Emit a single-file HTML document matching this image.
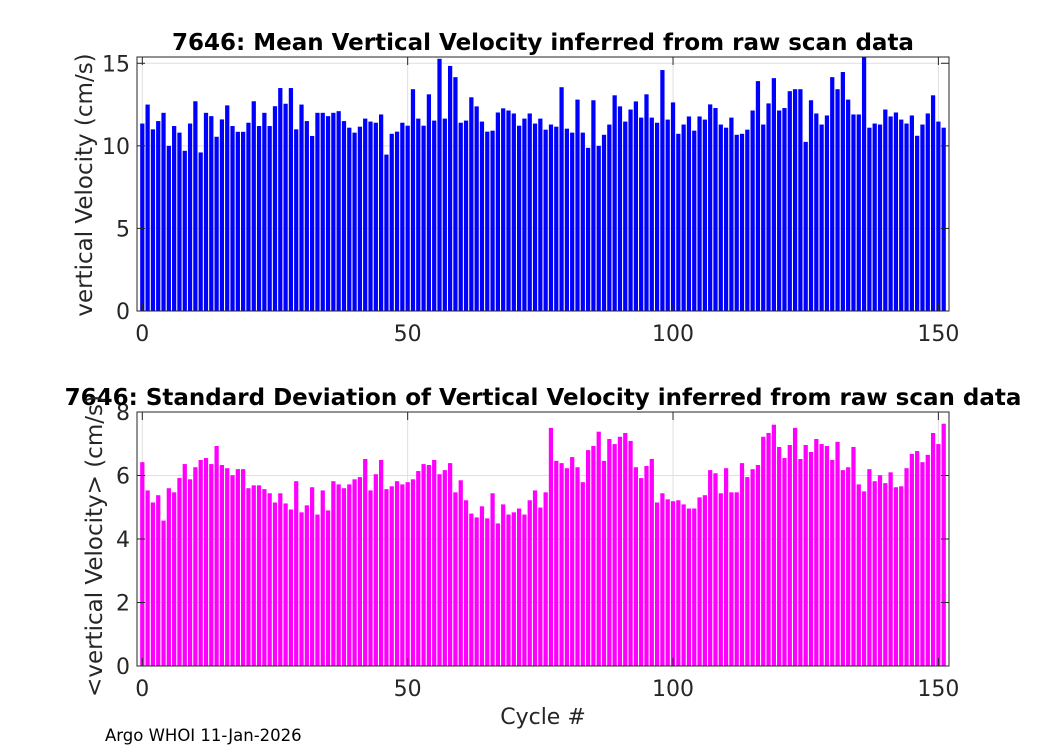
<!DOCTYPE html>
<html><head><meta charset="utf-8"><style>
body{margin:0;background:#fff;}
svg{display:block;font-family:"DejaVu Sans","Liberation Sans",sans-serif;}
</style></head><body>
<svg id="fig" width="1050" height="750" viewBox="0 0 1050 750" xmlns="http://www.w3.org/2000/svg"></svg>
<script>
const cycles = Array.from({length:152},(_,i)=>i);
const meanVel = [11.35,12.5,11.0,11.5,12.0,10.0,11.2,10.8,9.7,11.35,12.7,9.6,12.0,11.8,10.55,11.6,12.45,11.2,10.85,10.85,11.4,12.7,11.2,12.0,11.2,12.4,13.5,12.55,13.5,11.0,12.5,11.5,10.6,12.0,12.0,11.8,12.0,12.1,
11.5,11.1,10.8,11.16,11.65,11.47,11.4,11.9,9.47,10.73,10.86,11.4,11.22,13.43,11.65,11.22,13.12,11.53,15.27,11.65,14.84,14.16,11.4,11.53,12.94,12.39,11.47,10.86,10.92,12.02,12.27,12.14,11.96,11.22,11.65,11.96,11.35,11.65,10.98,
11.29,11.16,13.55,11.04,10.8,12.8,10.8,9.88,12.76,10.0,10.67,11.29,13.06,12.39,11.47,12.2,12.69,11.71,13.12,11.71,11.4,14.59,11.59,12.63,10.73,11.29,11.78,10.92,11.78,11.59,12.51,12.29,11.29,11.1,11.71,10.67,10.73,10.98,
12.14,13.92,11.29,12.57,14.1,12.14,12.29,13.31,13.43,13.43,10.24,12.76,11.96,11.29,11.84,14.16,13.43,14.47,12.8,11.9,11.9,15.6,11.1,11.35,11.29,12.2,11.78,12.02,11.59,11.35,11.84,10.61,11.29,11.96,13.06,11.47,11.1];
const stdVel = [6.42,5.53,5.15,5.38,4.58,5.6,5.47,5.92,6.36,5.88,6.26,6.49,6.55,6.36,6.93,6.33,6.23,6.01,6.2,6.2,5.6,5.69,5.69,5.57,5.44,5.15,5.44,5.12,4.93,5.82,4.84,5.06,5.63,4.77,5.53,4.9,5.82,5.72,
5.6,5.72,5.88,5.95,6.52,5.53,6.04,6.49,5.57,5.66,5.82,5.72,5.79,5.88,6.14,6.36,6.33,6.49,6.04,6.17,6.39,5.47,5.85,5.22,4.8,4.68,5.03,4.65,5.44,4.49,5.09,4.77,4.84,4.96,4.77,5.22,5.53,4.99,5.47,
7.5,6.46,6.39,6.23,6.58,6.26,5.79,6.8,6.93,7.38,6.46,7.15,6.99,7.22,7.34,7.09,6.26,5.92,6.3,6.52,5.15,5.44,5.25,5.19,5.22,5.09,4.96,4.96,5.31,5.38,6.17,6.07,5.44,6.23,5.47,5.47,6.39,5.95,
6.2,6.33,7.22,7.34,7.6,6.9,6.55,6.96,7.5,6.52,6.96,6.74,7.15,6.99,6.93,6.49,7.06,6.17,6.26,6.9,5.72,5.5,6.2,5.82,6.01,5.76,6.1,5.63,5.66,6.23,6.68,6.77,6.42,6.65,7.34,6.99,7.63];
const xTicks = [0,50,100,150];
const yTicksTop = [0,5,10,15];
const yTicksBot = [0,2,4,6,8];

const NS="http://www.w3.org/2000/svg";
const svg=document.getElementById('fig');
function mk(tag,attrs,parent){const e=document.createElementNS(NS,tag);for(const k in attrs)e.setAttribute(k,attrs[k]);(parent||svg).appendChild(e);return e;}

function panel(cfg){
  const L=137,R=949,T=cfg.top,B=cfg.bottom;
  const x=v=>L+(v-(-1))/(152-(-1))*(R-L);
  const y=v=>B-(v-0)/(cfg.ymax-0)*(B-T);
  const g=mk('g',{});
  
  
  mk('rect',{x:L,y:T,width:R-L,height:B-T,fill:'#fff'},g);
  const grid=mk('g',{stroke:'#dfdfdf','stroke-width':1},g);
  
  
  xTicks.forEach(t=>mk('line',{x1:x(t),x2:x(t),y1:T,y2:B},grid));
  cfg.yticks.forEach(t=>mk('line',{x1:L,x2:R,y1:y(t),y2:y(t)},grid));
  const cp='clip-'+cfg.name;
  const cl=mk('clipPath',{id:cp},g);mk('rect',{x:L,y:T,width:R-L,height:B-T},cl);
  const bars=mk('g',{'clip-path':'url(#'+cp+')',fill:cfg.color},g);
  
  
  const w=0.8*(x(1)-x(0));
  cycles.forEach((c,i)=>{
    const v=cfg.data[i];
    const r=mk('rect',{x:x(c)-w/2,y:y(v),width:w,height:y(0)-y(v)},bars);
    
    
  });
  const ax=mk('g',{stroke:'#262626','stroke-width':1,fill:'none'},g);
  
  
  mk('rect',{x:L,y:T,width:R-L,height:B-T},ax);
  xTicks.forEach(t=>{mk('line',{x1:x(t),x2:x(t),y1:B,y2:B-8},ax);mk('line',{x1:x(t),x2:x(t),y1:T,y2:T+8},ax);});
  cfg.yticks.forEach(t=>{mk('line',{x1:L,x2:L+8,y1:y(t),y2:y(t)},ax);mk('line',{x1:R,x2:R-8,y1:y(t),y2:y(t)},ax);});
  xTicks.forEach(t=>{const e=mk('text',{x:x(t),y:B+30,'text-anchor':'middle','font-size':22,fill:'#262626'},g);e.textContent=t;
    });
  cfg.yticks.forEach(t=>{const e=mk('text',{x:L-7,y:y(t)+8,'text-anchor':'end','font-size':22,fill:'#262626'},g);e.textContent=t;
    });
  const ti=mk('text',{x:543,y:T-7,'text-anchor':'middle','font-size':23,'font-weight':'bold',fill:'#000'},g);
  ti.textContent=cfg.title;
  const yl=mk('text',{x:0,y:0,'text-anchor':'middle','font-size':23,fill:'#262626',transform:'translate('+cfg.ylx+','+cfg.yly+') rotate(-90)'},g);
  yl.textContent=cfg.ylabel;
}
panel({name:'mean-velocity-chart',top:57,bottom:311,ymax:15.38,yticks:yTicksTop,data:meanVel,color:'#0000ff',
  title:'7646: Mean Vertical Velocity inferred from raw scan data',ylabel:'vertical Velocity (cm/s)',ylx:92,yly:185});
panel({name:'std-velocity-chart',top:412,bottom:666,ymax:8,yticks:yTicksBot,data:stdVel,color:'#ff00ff',
  title:'7646: Standard Deviation of Vertical Velocity inferred from raw scan data',ylabel:'<vertical Velocity> (cm/s)',ylx:102,yly:546});
const xl=mk('text',{x:543,y:724,'text-anchor':'middle','font-size':22,fill:'#262626'});
xl.textContent='Cycle #';


const ft=mk('text',{x:105,y:741,'font-size':16.5,fill:'#000'});
ft.textContent='Argo WHOI 11-Jan-2026';


</script>
</body></html>
